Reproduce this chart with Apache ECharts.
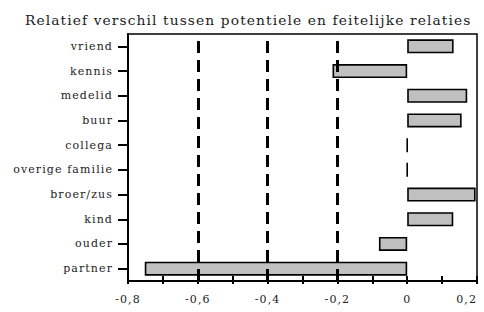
<!DOCTYPE html>
<html><head><meta charset="utf-8">
<script src="https://cdn.jsdelivr.net/npm/echarts@6/dist/echarts.min.js"></script>
<style>
html,body{margin:0;padding:0;background:#fff}
#c{width:484px;height:312px}
#c text{letter-spacing:1.1px}
</style>
</head><body><div id="c"></div>
<script>
const categories = ['vriend','kennis','medelid','buur','collega','overige familie','broer/zus','kind','ouder','partner'];
const values = [0.133, -0.214, 0.172, 0.156, 0, 0, 0.196, 0.132, -0.081, -0.752];
const titleText = 'Relatief verschil tussen potentiele en feitelijke relaties';
const xMin = -0.8, xMax = 0.2, xStep = 0.2;

const fmt = v => { const r = Math.round(v*10)/10; return r === 0 ? '0' : String(r).replace('.', ','); };
const chart = echarts.init(document.getElementById('c'), null, {renderer:'svg'});
const serif = 'DejaVu Serif';
chart.setOption({
  animation:false,
  title:{text:titleText, left:20, top:8, textStyle:{fontFamily:serif, fontSize:13.8, fontWeight:'normal', color:'#222'}},
  grid:{left:128, right:7, top:34, bottom:31, containLabel:false, outerBoundsMode:'none', show:true, borderColor:'#000', borderWidth:1.5, backgroundColor:'transparent'},
  xAxis:[{
    type:'value', min:xMin, max:xMax, interval:xStep, z:5,
    axisLine:{show:true, lineStyle:{color:'#000', width:2}},
    axisTick:{show:true, inside:true, length:5, lineStyle:{color:'#000', width:2}},
    minorTick:{show:true, splitNumber:2, length:5, lineStyle:{color:'#000', width:2}},
    axisLabel:{formatter:fmt, fontFamily:serif, fontSize:11, color:'#222', margin:13, alignMaxLabel:'right'},
    splitLine:{show:true, lineStyle:{color:['transparent','#000','#000','#000','transparent','transparent'], width:3, type:[12,7], dashOffset:12}}
  },{
    type:'value', min:xMin, max:xMax, interval:xStep, position:'bottom', z:5,
    axisLine:{show:false},
    axisTick:{show:true, inside:false, length:3, lineStyle:{color:'#000', width:2}},
    minorTick:{show:true, splitNumber:2, length:3, lineStyle:{color:'#000', width:2}},
    axisLabel:{show:false}, splitLine:{show:false}
  }],
  yAxis:{
    type:'category', data:categories, inverse:true, z:5,
    axisLine:{show:true, onZero:false, lineStyle:{color:'#000', width:2}},
    axisTick:{show:true, alignWithLabel:true, length:10, lineStyle:{color:'#000', width:2}},
    axisLabel:{fontFamily:serif, fontSize:11, color:'#222', margin:15},
    splitLine:{show:false}
  },
  series:[{
    type:'bar', data:values, barWidth:14, xAxisIndex:0, z:2,
    itemStyle:{color:'#c0c0c0', borderColor:'#000', borderWidth:1.6}
  }]
});
</script></body></html>
